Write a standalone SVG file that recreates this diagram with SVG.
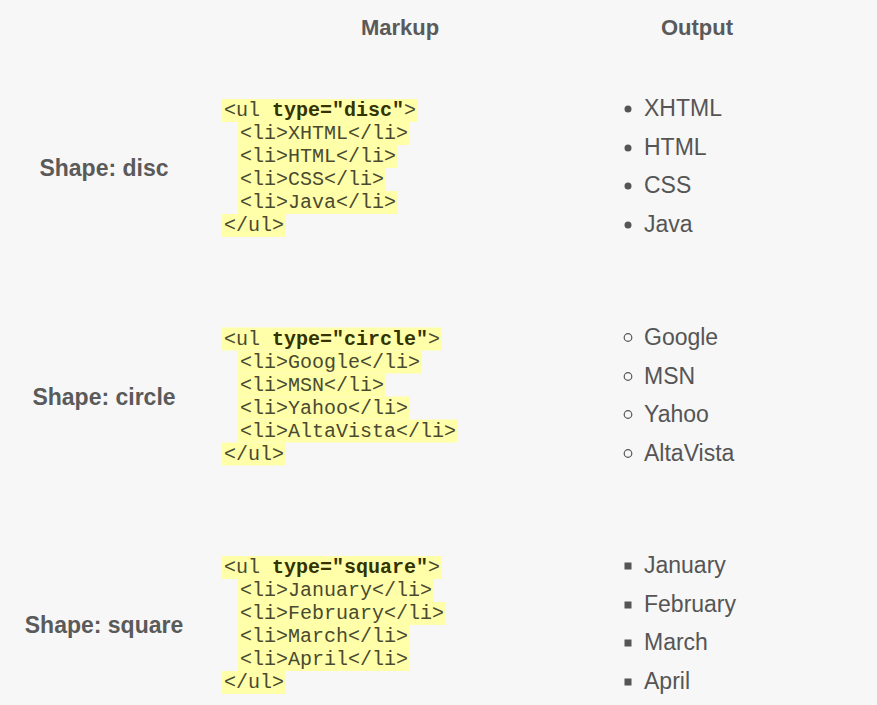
<svg xmlns="http://www.w3.org/2000/svg" width="877" height="705" viewBox="0 0 877 705">
<style>
.h{font-family:'Liberation Sans',Arial,sans-serif;font-size:22px;font-weight:bold;fill:#5a5a5a;text-anchor:middle}
.lab{font-family:'Liberation Sans',Arial,sans-serif;font-size:23px;font-weight:bold;fill:#5a5a5a;text-anchor:middle}
.c{font-family:'Liberation Mono','Courier New',monospace;font-size:20px;fill:#4a4a30}
.b{font-weight:bold;fill:#333300}
.hl{fill:#ffffaa}
.o{font-family:'Liberation Sans',Arial,sans-serif;font-size:23px;fill:#555}
.dot{fill:#555}
.ring{fill:none;stroke:#555;stroke-width:1.2}
</style>
<rect width="877" height="705" fill="#f7f7f7"/>
<text class="h" x="400" y="35">Markup</text>
<text class="h" x="697" y="35">Output</text>
<g id="disc">
<text class="lab" x="104" y="176">Shape: disc</text>
<rect class="hl" x="222" y="99" width="196" height="23"/>
<rect class="hl" x="238" y="122" width="172" height="23"/>
<rect class="hl" x="238" y="145" width="160" height="23"/>
<rect class="hl" x="238" y="168" width="148" height="23"/>
<rect class="hl" x="238" y="191" width="160" height="23"/>
<rect class="hl" x="222" y="214" width="64" height="23"/>
<text class="c"><tspan x="224" y="116">&lt;ul <tspan class="b">type="disc"</tspan>&gt;</tspan><tspan x="240" y="139">&lt;li&gt;XHTML&lt;/li&gt;</tspan><tspan x="240" y="162">&lt;li&gt;HTML&lt;/li&gt;</tspan><tspan x="240" y="185">&lt;li&gt;CSS&lt;/li&gt;</tspan><tspan x="240" y="208">&lt;li&gt;Java&lt;/li&gt;</tspan><tspan x="224" y="231">&lt;/ul&gt;</tspan></text>
<circle class="dot" cx="628" cy="109" r="3.5"/><circle class="dot" cx="628" cy="148" r="3.5"/><circle class="dot" cx="628" cy="186" r="3.5"/><circle class="dot" cx="628" cy="225" r="3.5"/>
<text class="o"><tspan x="644" y="116">XHTML</tspan><tspan x="644" y="155">HTML</tspan><tspan x="644" y="193">CSS</tspan><tspan x="644" y="232">Java</tspan></text>
</g>
<g id="circle" transform="translate(0,228.5)">
<text class="lab" x="104" y="176">Shape: circle</text>
<rect class="hl" x="222" y="99" width="220" height="23"/>
<rect class="hl" x="238" y="122" width="184" height="23"/>
<rect class="hl" x="238" y="145" width="148" height="23"/>
<rect class="hl" x="238" y="168" width="172" height="23"/>
<rect class="hl" x="238" y="191" width="220" height="23"/>
<rect class="hl" x="222" y="214" width="64" height="23"/>
<text class="c"><tspan x="224" y="116">&lt;ul <tspan class="b">type="circle"</tspan>&gt;</tspan><tspan x="240" y="139">&lt;li&gt;Google&lt;/li&gt;</tspan><tspan x="240" y="162">&lt;li&gt;MSN&lt;/li&gt;</tspan><tspan x="240" y="185">&lt;li&gt;Yahoo&lt;/li&gt;</tspan><tspan x="240" y="208">&lt;li&gt;AltaVista&lt;/li&gt;</tspan><tspan x="224" y="231">&lt;/ul&gt;</tspan></text>
<circle class="ring" cx="628" cy="109" r="3.8"/><circle class="ring" cx="628" cy="148" r="3.8"/><circle class="ring" cx="628" cy="186" r="3.8"/><circle class="ring" cx="628" cy="225" r="3.8"/>
<text class="o"><tspan x="644" y="116">Google</tspan><tspan x="644" y="155">MSN</tspan><tspan x="644" y="193">Yahoo</tspan><tspan x="644" y="232">AltaVista</tspan></text>
</g>
<g id="square" transform="translate(0,457)">
<text class="lab" x="104" y="176">Shape: square</text>
<rect class="hl" x="222" y="99" width="220" height="23"/>
<rect class="hl" x="238" y="122" width="196" height="23"/>
<rect class="hl" x="238" y="145" width="208" height="23"/>
<rect class="hl" x="238" y="168" width="172" height="23"/>
<rect class="hl" x="238" y="191" width="172" height="23"/>
<rect class="hl" x="222" y="214" width="64" height="23"/>
<text class="c"><tspan x="224" y="116">&lt;ul <tspan class="b">type="square"</tspan>&gt;</tspan><tspan x="240" y="139">&lt;li&gt;January&lt;/li&gt;</tspan><tspan x="240" y="162">&lt;li&gt;February&lt;/li&gt;</tspan><tspan x="240" y="185">&lt;li&gt;March&lt;/li&gt;</tspan><tspan x="240" y="208">&lt;li&gt;April&lt;/li&gt;</tspan><tspan x="224" y="231">&lt;/ul&gt;</tspan></text>
<rect class="dot" x="624.5" y="105.5" width="7" height="7"/><rect class="dot" x="624.5" y="144.5" width="7" height="7"/><rect class="dot" x="624.5" y="182.5" width="7" height="7"/><rect class="dot" x="624.5" y="221.5" width="7" height="7"/>
<text class="o"><tspan x="644" y="116">January</tspan><tspan x="644" y="155">February</tspan><tspan x="644" y="193">March</tspan><tspan x="644" y="232">April</tspan></text>
</g>
</svg>
